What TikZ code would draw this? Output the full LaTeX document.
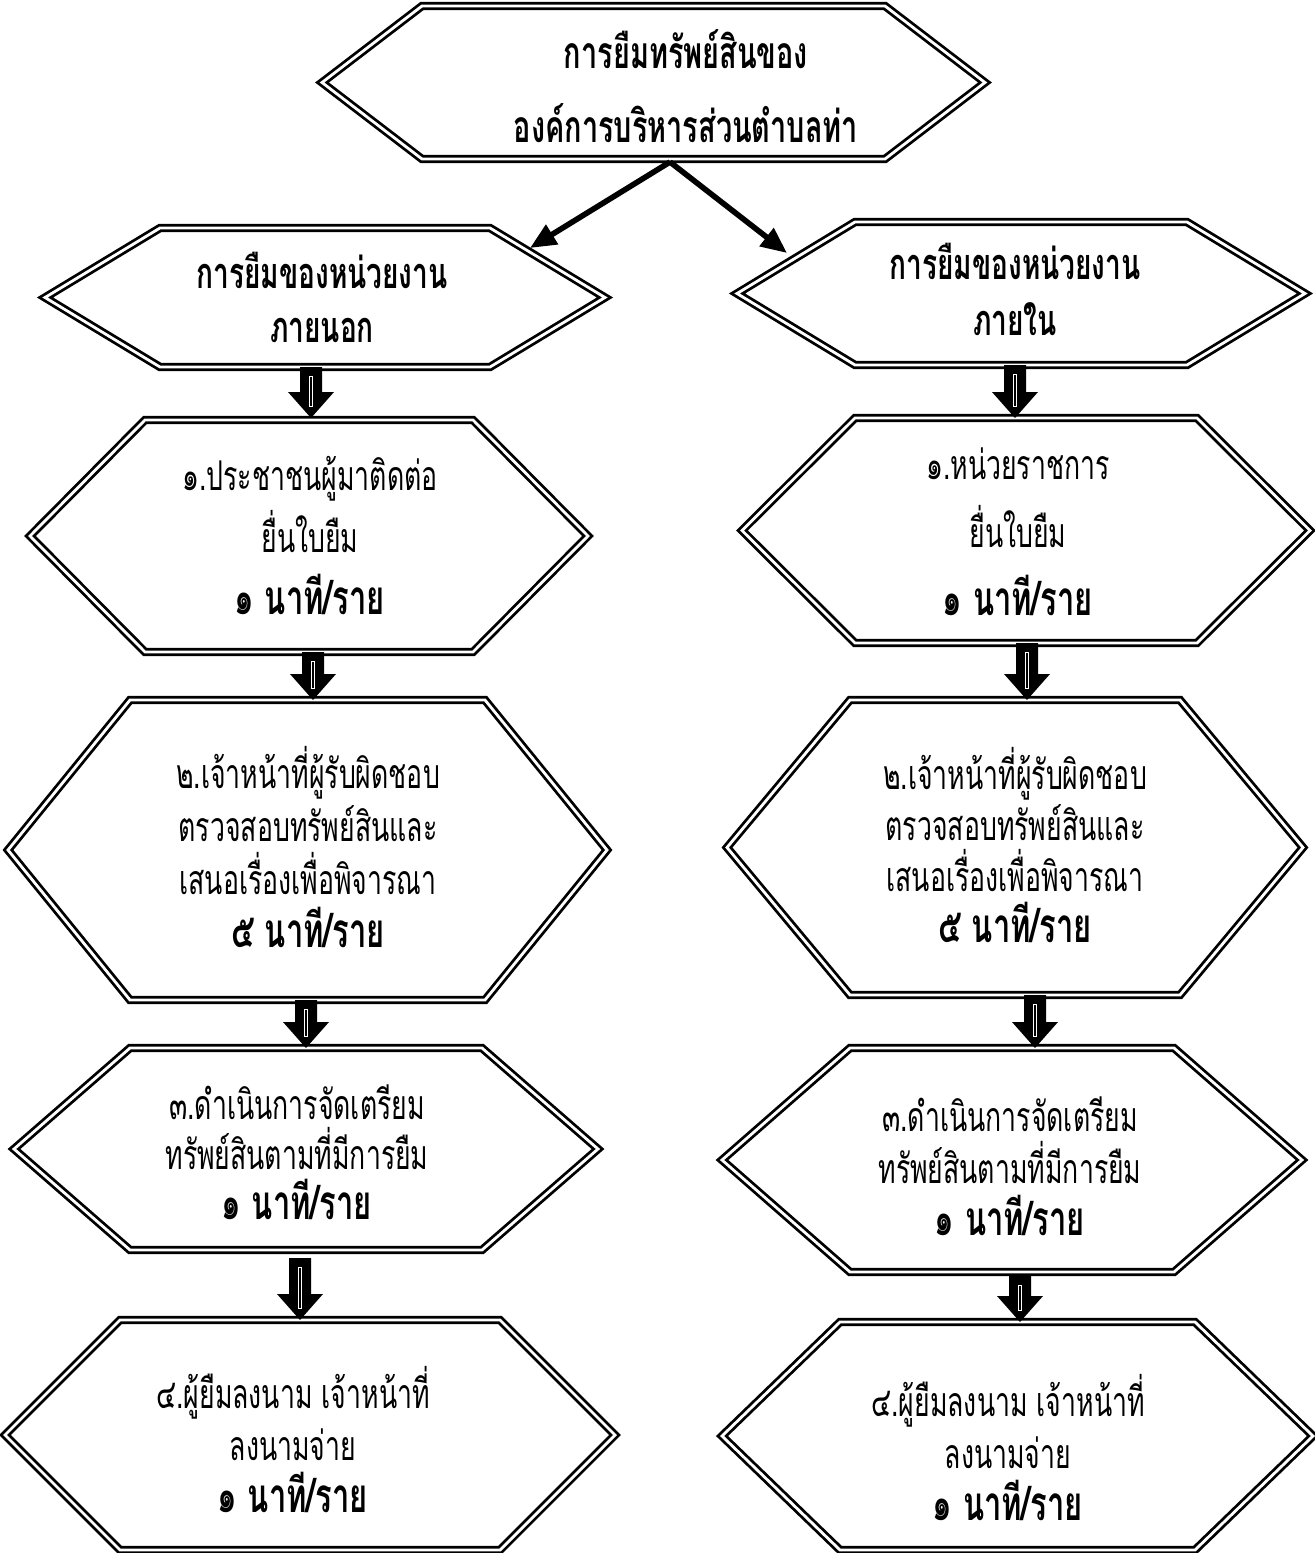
\documentclass[tikz,border=0pt]{standalone}
\usepackage{fontspec}
\setmainfont[Script=Thai, FakeStretch=0.65]{Loma}
\usetikzlibrary{calc,arrows.meta}
\tikzset{
  hexline/.style={draw=black, line width=1.4pt, double=white, double distance=1.4pt, line join=miter},
  boxtext/.style={align=center, inner sep=0pt},
  thinarrow/.style={line width=2.8pt, -{Triangle[length=13pt,width=11pt]}},
}
\newcommand\hexbox[6]{% name, xl, xr, yt, yb, inset
  \pgfmathsetmacro\ym{(#4+#5)/2}%
  \pgfmathsetmacro\xa{#2+#6}%
  \pgfmathsetmacro\xb{#3-#6}%
  \draw[hexline] (#2,\ym) -- (\xa,#4) -- (\xb,#4) -- (#3,\ym) -- (\xb,#5) -- (\xa,#5) -- cycle;
}
\newcommand\blockarr[2]{%
  \fill[black] ($(#1)+(-11,0)$) -- ($(#1)+(11,0)$) -- ($(#2)+(11,-26)$) -- ($(#2)+(23,-26)$) -- (#2)
     -- ($(#2)+(-23,-26)$) -- ($(#2)+(-11,-26)$) -- cycle;
  \draw[white, line width=0.5pt] ($(#1)+(-1.6,9)$) rectangle ($(#2)+(1.6,-12)$);
}
\newcommand\tf[1]{\fontsize{20.5}{#1}\selectfont}
\newcommand\tm[1]{{\fontsize{23.8}{10}\selectfont\bfseries #1}}
\begin{document}
\begin{tikzpicture}[x=0.5pt,y=-0.5pt]
\useasboundingbox (0,0) rectangle (1314,1553);
\fill[white] (0,0) rectangle (1314,1553);

% hexagons
\hexbox{T}{322}{985}{6}{159}{100}
\hexbox{L0}{45}{605}{228}{367}{115}
\hexbox{R0}{737}{1305}{222}{365}{118}
\hexbox{L1}{30}{588}{420}{652}{115}
\hexbox{R1}{742}{1310}{418}{643}{113}
\hexbox{L2}{8}{607}{700}{1000}{122}
\hexbox{R2}{727}{1303}{700}{995}{123}
\hexbox{L3}{14}{598}{1048}{1250}{116}
\hexbox{R3}{722}{1302}{1048}{1272}{128}
\hexbox{L4}{5}{615}{1320}{1550}{115}
\hexbox{R4}{722}{1313}{1322}{1550}{118}

% texts
\node[boxtext, font=\bfseries\fontsize{22.2}{37}\selectfont] (tT) at (686,86) {การยืมทรัพย์สินของ\\องค์การบริหารส่วนตำบลท่า};
\node[boxtext, font=\bfseries\fontsize{21.6}{27}\selectfont] (tL0) at (322,297) {การยืมของหน่วยงาน\\ภายนอก};
\node[boxtext, font=\bfseries\fontsize{21.6}{28}\selectfont] (tR0) at (1015,289) {การยืมของหน่วยงาน\\ภายใน};
\node[boxtext, font=\tf{31}] (tL1) at (310,535) {๑.ประชาชนผู้มาติดต่อ\\ยื่นใบยืม\\\tm{๑ นาที/ราย}};
\node[boxtext, font=\tf{34}] (tR1) at (1018,532) {๑.หน่วยราชการ\\ยื่นใบยืม\\\tm{๑ นาที/ราย}};
\node[boxtext, font=\tf{26.5}] (tL2) at (308,847) {๒.เจ้าหน้าที่ผู้รับผิดชอบ\\ตรวจสอบทรัพย์สินและ\\เสนอเรื่องเพื่อพิจารณา\\\tm{๕ นาที/ราย}};
\node[boxtext, font=\tf{25.5}] (tR2) at (1015,845) {๒.เจ้าหน้าที่ผู้รับผิดชอบ\\ตรวจสอบทรัพย์สินและ\\เสนอเรื่องเพื่อพิจารณา\\\tm{๕ นาที/ราย}};
\node[boxtext, font=\tf{25}] (tL3) at (297,1152) {๓.ดำเนินการจัดเตรียม\\ทรัพย์สินตามที่มีการยืม\\\tm{๑ นาที/ราย}};
\node[boxtext, font=\tf{26}] (tR3) at (1010,1166) {๓.ดำเนินการจัดเตรียม\\ทรัพย์สินตามที่มีการยืม\\\tm{๑ นาที/ราย}};
\node[boxtext, font=\tf{26}] (tL4) at (293,1440) {๔.ผู้ยืมลงนาม เจ้าหน้าที่\\ลงนามจ่าย\\\tm{๑ นาที/ราย}};
\node[boxtext, font=\tf{26}] (tR4) at (1008,1448) {๔.ผู้ยืมลงนาม เจ้าหน้าที่\\ลงนามจ่าย\\\tm{๑ นาที/ราย}};

% connection coordinates
\coordinate (Tb) at (670,162);
\coordinate (L0in) at (530,248);
\coordinate (R0in) at (787,253);
\draw[thinarrow] (Tb) -- (L0in);
\draw[thinarrow] (Tb) -- (R0in);

\coordinate (L0b) at (311,367); \coordinate (L1t) at (311,418);
\coordinate (L1b) at (313,652); \coordinate (L2t) at (313,700);
\coordinate (L2b) at (306,1000); \coordinate (L3t) at (306,1048);
\coordinate (L3b) at (300,1258); \coordinate (L4t) at (300,1320);
\coordinate (R0b) at (1015,365); \coordinate (R1t) at (1015,418);
\coordinate (R1b) at (1027,643); \coordinate (R2t) at (1027,700);
\coordinate (R2b) at (1035,995); \coordinate (R3t) at (1035,1048);
\coordinate (R3b) at (1020,1276); \coordinate (R4t) at (1020,1322);

\blockarr{L0b}{L1t}
\blockarr{L1b}{L2t}
\blockarr{L2b}{L3t}
\blockarr{L3b}{L4t}
\blockarr{R0b}{R1t}
\blockarr{R1b}{R2t}
\blockarr{R2b}{R3t}
\blockarr{R3b}{R4t}
\end{tikzpicture}
\end{document}
